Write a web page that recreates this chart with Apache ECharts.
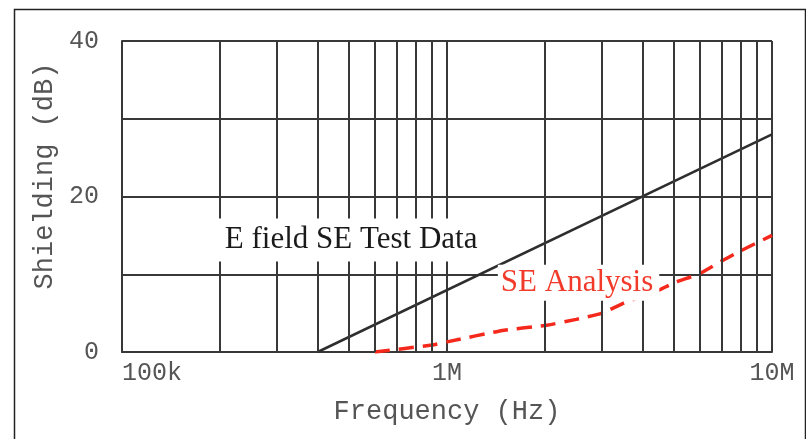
<!DOCTYPE html>
<html>
<head>
<meta charset="utf-8">
<title>Shielding vs Frequency</title>
<script src="https://cdn.jsdelivr.net/npm/echarts@6/dist/echarts.min.js"></script>
<style>
  html, body { margin: 0; padding: 0; background: #fff; }
  #chart { width: 806px; height: 439px; }
</style>
</head>
<body>
<div id="chart"></div>
<script>
// Measured E-field shielding effectiveness (straight line on the log scale)
const testFreq = [4.0e5, 1.0e7];
const testSE = [0, 28];

// Analytical shielding effectiveness estimate
const analysisFreq = [6.0e5, 9.0e5, 1.0e6, 1.5e6, 2.0e6, 2.5e6, 3.0e6, 3.5e6, 4.4e6, 5.0e6, 6.0e6, 7.0e6, 8.0e6, 1.0e7];
const analysisSE = [0, 0.9, 1.3, 2.8, 3.4, 4.2, 5.0, 6.3, 7.8, 8.9, 10.1, 11.7, 13.0, 15.0];

// Axis labelling
const xTickValues = [1e5, 1e6, 1e7];
const xTickLabels = ['100k', '1M', '10M'];
const yTickLabels = [0, 20, 40];

// Intermediate lines of the log grid (2..9 within each decade)
const minorFreqs = [2e5, 3e5, 4e5, 5e5, 6e5, 7e5, 8e5, 9e5,
                    2e6, 3e6, 4e6, 5e6, 6e6, 7e6, 8e6, 9e6];

const zip = (xs, ys) => xs.map((x, i) => [x, ys[i]]);

const gridColor = '#383838';
const monoFont = '"Liberation Mono", "DejaVu Sans Mono", monospace';
const serifFont = '"Liberation Serif", "DejaVu Serif", serif';

const chart = echarts.init(document.getElementById('chart'), null, { renderer: 'canvas' });

chart.setOption({
  animation: false,
  backgroundColor: '#fff',
  grid: { left: 122, right: 34, top: 41, bottom: 87, containLabel: false },
  graphic: [{
    type: 'rect',
    left: 12, top: 7,
    shape: { width: 791, height: 450 },
    style: { fill: 'none', stroke: '#222', lineWidth: 1.5 },
    silent: true, z: 100
  }],
  xAxis: {
    type: 'log',
    logBase: 10,
    min: 1e5,
    max: 1e7,
    name: 'Frequency (Hz)',
    nameLocation: 'middle',
    nameGap: 46,
    nameTextStyle: { fontFamily: monoFont, fontSize: 27, color: '#555' },
    axisLine: { show: true, lineStyle: { color: gridColor, width: 2 } },
    axisTick: { show: false },
    axisLabel: {
      margin: 9,
      fontFamily: monoFont,
      fontSize: 25,
      color: '#555',
      alignMinLabel: 'left',
      formatter: function (v) {
        const i = xTickValues.findIndex(t => Math.abs(Math.log10(t) - Math.log10(v)) < 1e-6);
        return i >= 0 ? xTickLabels[i] : '';
      }
    },
    splitLine: { show: true, lineStyle: { color: gridColor, width: 2 } }
  },
  yAxis: {
    type: 'value',
    min: 0,
    max: 40,
    interval: 10,
    name: 'Shielding (dB)',
    nameLocation: 'middle',
    nameGap: 64,
    nameTextStyle: { fontFamily: monoFont, fontSize: 27, color: '#555', padding: [0, 0, 0, 41] },
    axisLine: { show: true, lineStyle: { color: gridColor, width: 2 } },
    axisTick: { show: false },
    axisLabel: {
      margin: 23,
      fontFamily: monoFont,
      fontSize: 25,
      color: '#555',
      formatter: v => (yTickLabels.indexOf(v) >= 0 ? String(v) : '')
    },
    splitLine: { show: true, lineStyle: { color: gridColor, width: 2 } }
  },
  series: [
    {
      // carries the intermediate log-grid lines
      name: 'grid',
      type: 'line',
      z: 1,
      data: [[1e5, 0]],
      symbol: 'none',
      lineStyle: { opacity: 0 },
      silent: true,
      markLine: {
        silent: true,
        symbol: ['none', 'none'],
        label: { show: false },
        lineStyle: { color: gridColor, width: 2, type: 'solid' },
        data: minorFreqs.map(f => ({ xAxis: f }))
      }
    },
    {
      name: 'E field SE Test Data',
      type: 'line',
      z: 3,
      data: zip(testFreq, testSE),
      symbol: 'none',
      lineStyle: { color: '#2e2e2e', width: 2.5 }
    },
    {
      name: 'SE Analysis',
      type: 'line',
      z: 3,
      smooth: 0.2,
      data: zip(analysisFreq, analysisSE),
      symbol: 'none',
      lineStyle: { color: '#f5281c', width: 3.5, type: [15, 9] }
    },
    {
      // text annotations on white boxes
      name: 'annotations',
      type: 'line',
      z: 5,
      data: [[1e5, 0]],
      symbol: 'none',
      lineStyle: { opacity: 0 },
      silent: true,
      markPoint: {
        silent: true,
        symbol: 'rect',
        symbolSize: 0,
        data: [
          {
            coord: [5.07e5, 14.4],
            label: {
              show: true,
              position: 'inside',
              formatter: 'E field SE Test Data',
              fontFamily: serifFont,
              fontSize: 31,
              lineHeight: 33,
              color: '#1a1a1a',
              backgroundColor: '#fff',
              padding: [6, 14, 4, 14]
            }
          },
          {
            coord: [2.54e6, 8.9],
            label: {
              show: true,
              position: 'inside',
              formatter: 'SE Analysis',
              fontFamily: serifFont,
              fontSize: 31,
              lineHeight: 33,
              color: '#f23a2a',
              backgroundColor: '#fff',
              padding: [2, 6, 1, 3]
            }
          }
        ]
      }
    }
  ]
});
</script>
</body>
</html>
